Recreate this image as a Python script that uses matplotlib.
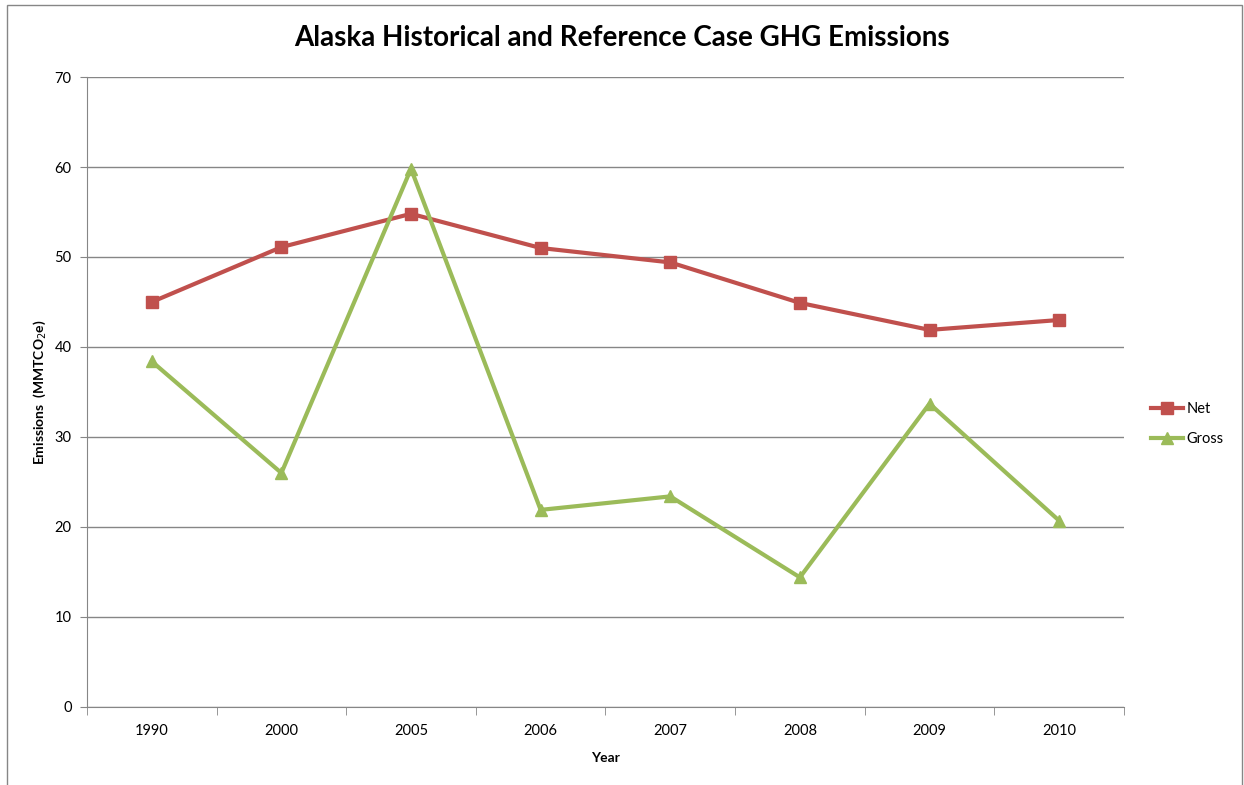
import matplotlib.pyplot as plt
from matplotlib.patches import Rectangle

# Data
years = ['1990', '2000', '2005', '2006', '2007', '2008', '2009', '2010']
net = [45.0, 51.1, 54.8, 51.0, 49.4, 44.9, 41.9, 43.0]
gross = [38.4, 26.0, 59.8, 21.9, 23.4, 14.4, 33.7, 20.7]

plt.rcParams['font.family'] = ['Lato', 'DejaVu Sans']

fig = plt.figure(figsize=(12.44, 7.85), dpi=100)
ax = fig.add_axes([0.0699, 0.0994, 0.8336, 0.8025])

x = range(len(years))
ax.plot(x, net, color='#C0504D', lw=3, marker='s', ms=8, label='Net')
ax.plot(x, gross, color='#9BBB59', lw=3, marker='^', ms=9, label='Gross')

ax.set_xlim(-0.5, len(years) - 0.5)
ax.set_ylim(0, 70)
ax.set_yticks(range(0, 71, 10))
ax.set_xticks(list(x))
ax.set_xticklabels(years)
ax.set_xticks([i - 0.5 for i in range(len(years) + 1)], minor=True)
ax.tick_params(axis='x', which='major', length=0, pad=12, labelsize=10.5)
ax.tick_params(axis='x', which='minor', length=6, color='#868686', direction='out')
ax.tick_params(axis='y', length=5, color='#868686', labelsize=10.5, pad=6)

ax.grid(axis='y', color='#868686', lw=1)
ax.set_axisbelow(True)
for s in ['top', 'right']:
    ax.spines[s].set_visible(False)
for s in ['left', 'bottom']:
    ax.spines[s].set_color('#868686')

ax.set_xlabel('Year', fontsize=10, fontweight='bold', labelpad=10)
ax.set_ylabel('Emissions  (MMTCO$_2$e)', fontsize=10, fontweight='bold', labelpad=5)
fig.text(0.5, 0.951, 'Alaska Historical and Reference Case GHG Emissions',
         ha='center', va='center', fontsize=20, fontweight='bold')

fig.legend(loc='center left', bbox_to_anchor=(0.915, 0.46), frameon=False,
           fontsize=10.5, handlelength=2.2, labelspacing=1.1, handletextpad=0.2)

# outer chart border
fig.patches.append(Rectangle((7 / 1244, -2 / 785), 1235 / 1244, 782 / 785,
                             transform=fig.transFigure, fill=False,
                             edgecolor='#868686', lw=1))

fig.savefig('out.png', dpi=100)
